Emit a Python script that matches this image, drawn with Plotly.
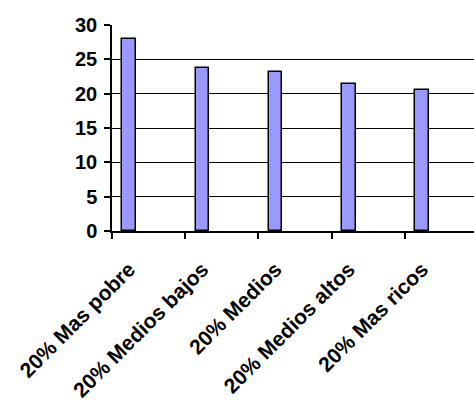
import plotly.graph_objects as go

categories = ["20% Mas pobre", "20% Medios bajos", "20% Medios", "20% Medios altos", "20% Mas ricos"]
values = [27.9, 23.8, 23.2, 21.4, 20.6]
y_ticks = [0, 5, 10, 15, 20, 25, 30]

pos = list(range(len(categories)))
# bars sit left of the category centre (Excel-style cluster with one series shown)
shift = 0.235
boundaries = [p - shift for p in pos] + [len(pos) - shift]

font = dict(family="Liberation Sans, Arial, sans-serif", size=20, color="black")

fig = go.Figure(
    go.Bar(
        x=pos,
        y=values,
        width=0.185,
        marker=dict(color="#9999FF", line=dict(color="black", width=1.5)),
    )
)

fig.update_layout(
    width=474,
    height=401,
    margin=dict(l=112, r=0, t=25, b=170),
    paper_bgcolor="white",
    plot_bgcolor="white",
    showlegend=False,
    font=font,
    bargap=0,
)

fig.update_xaxes(
    range=[-shift, -shift + (474 - 112) / 73.2],
    tickmode="array",
    tickvals=pos,
    ticktext=["<b>%s</b>" % c for c in categories],
    tickangle=-45,
    tickfont=dict(size=21),
    ticks="",
    ticklabelstandoff=16,
    showline=True,
    linecolor="black",
    linewidth=1.5,
    showgrid=False,
    zeroline=False,
    minor=dict(tickmode="array", tickvals=boundaries, ticks="outside", ticklen=6,
               tickcolor="black", tickwidth=1.5, showgrid=False),
)

fig.update_yaxes(
    range=[0, 30],
    tickmode="array",
    tickvals=y_ticks,
    ticktext=["<b>%d</b>" % v for v in y_ticks],
    tickfont=dict(size=20),
    ticks="outside",
    ticklen=6,
    tickcolor="black",
    tickwidth=1.5,
    ticklabelstandoff=3,
    showline=True,
    linecolor="black",
    linewidth=1.5,
    showgrid=True,
    gridcolor="black",
    gridwidth=1.3,
    zeroline=False,
)

fig.write_html("out.html")
